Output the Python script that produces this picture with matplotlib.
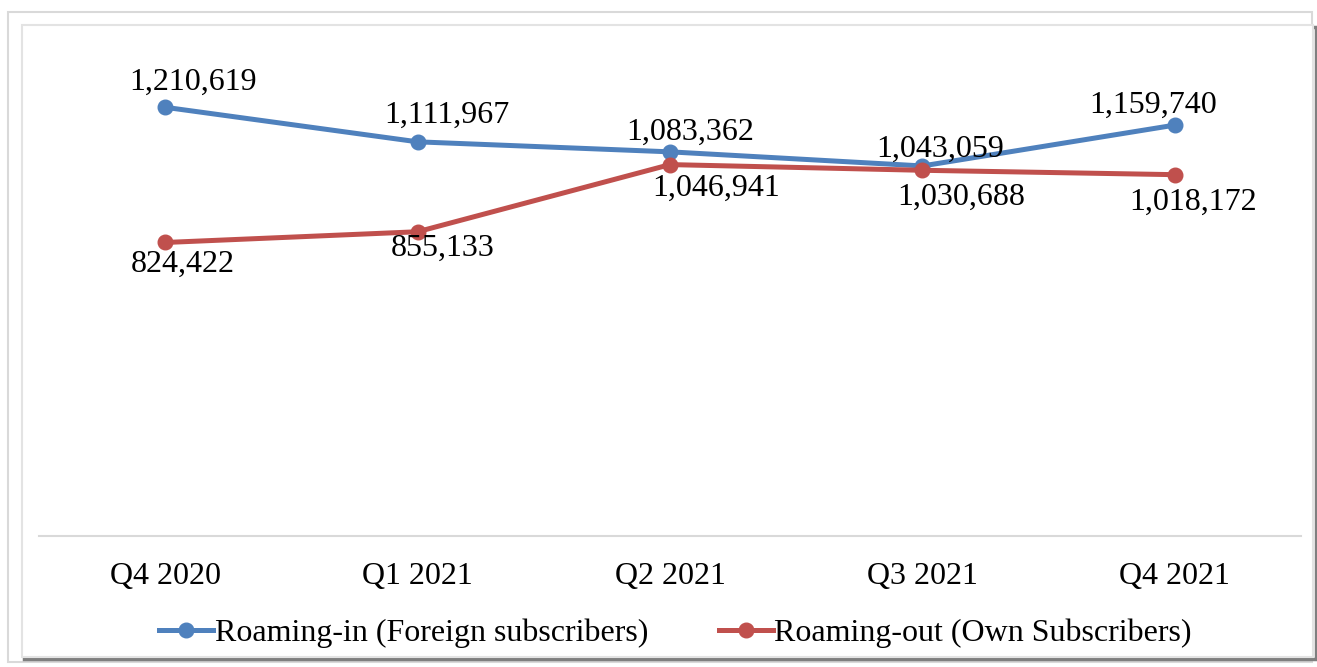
import matplotlib.pyplot as plt
from matplotlib.patches import Rectangle

quarters = ["Q4 2020", "Q1 2021", "Q2 2021", "Q3 2021", "Q4 2021"]
roaming_in = [1210619, 1111967, 1083362, 1043059, 1159740]
roaming_out = [824422, 855133, 1046941, 1030688, 1018172]

BLUE = "#4F81BD"
RED = "#C0504D"

# label offsets in pixels (dx, dy), hand-placed like the original
in_offsets = [(28, 25), (29, 27), (20, 20), (18, 17), (-22, 20)]
out_offsets = [(18, -22), (25, -17), (46, -24), (39, -27), (18, -28)]

plt.rcParams["font.family"] = ["Liberation Serif", "DejaVu Serif"]

W, H = 1317, 667
fig = plt.figure(figsize=(W / 100, H / 100), dpi=100)

# chart frame with a little shadow
def px(x, y):
    return x / W, 1 - y / H

frame_kw = dict(transform=fig.transFigure, zorder=-10)
fig.patches.append(Rectangle(px(8, 662), 1304 / W, 650 / H, fill=False,
                             edgecolor="#d9d9d9", linewidth=1.5, **frame_kw))
fig.patches.append(Rectangle(px(24, 659), 1292 / W, 632 / H, fill=False,
                             edgecolor="#7f7f7f", linewidth=2.5, **frame_kw))
fig.patches.append(Rectangle(px(22, 657), 1291 / W, 632 / H, fill=True, facecolor="white",
                             edgecolor="#e3e3e3", linewidth=1.5, **frame_kw))

ax = fig.add_axes([39 / W, 1 - 536 / H, 1262 / W, 495 / H])
ax.set_facecolor("none")

x = list(range(len(quarters)))
ax.plot(x, roaming_in, color=BLUE, lw=3.6, marker="o", ms=10.5, label="Roaming-in (Foreign subscribers)", zorder=3)
ax.plot(x, roaming_out, color=RED, lw=3.6, marker="o", ms=10.5, label="Roaming-out (Own Subscribers)", zorder=4)

for xi, v, (dx, dy) in zip(x, roaming_in, in_offsets):
    ax.annotate(f"{v:,}", (xi, v), xytext=(dx, dy), textcoords="offset pixels",
                ha="center", va="center", fontsize=23, zorder=5)
for xi, v, (dx, dy) in zip(x, roaming_out, out_offsets):
    ax.annotate(f"{v:,}", (xi, v), xytext=(dx, dy), textcoords="offset pixels",
                ha="center", va="center", fontsize=23, zorder=5)

ax.set_xlim(-0.5, len(quarters) - 0.5)
ax.set_ylim(-14000, 1400000)
ax.set_xticks(x)
ax.set_xticklabels(quarters, fontsize=23)
ax.tick_params(axis="x", length=0, pad=18.5)
ax.set_yticks([])
for s in ["top", "right", "left"]:
    ax.spines[s].set_visible(False)
ax.spines["bottom"].set_color("#d9d9d9")
ax.spines["bottom"].set_linewidth(1.5)

fig.legend(loc="center", bbox_to_anchor=(0.5 + 17 / W, 1 - 633 / H), ncol=2, frameon=False,
           fontsize=23, handlelength=1.7, handletextpad=0.05, columnspacing=2.2)

fig.savefig("out.png", dpi=100)
